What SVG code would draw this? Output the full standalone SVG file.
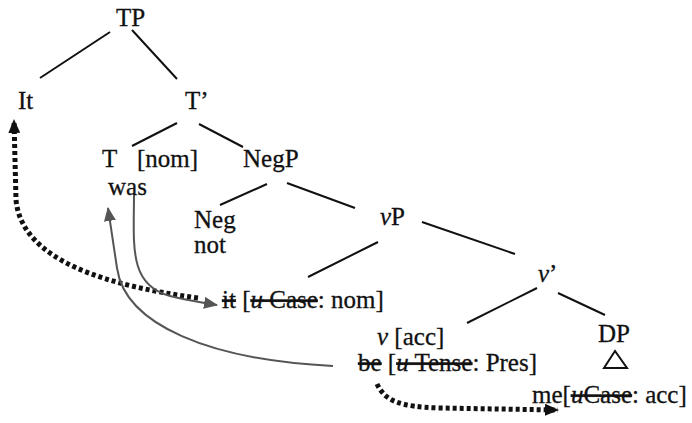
<svg xmlns="http://www.w3.org/2000/svg" width="692" height="423" viewBox="0 0 692 423">
<defs>
<marker id="ahK" markerWidth="14" markerHeight="12" refX="13" refY="6" orient="auto" markerUnits="userSpaceOnUse"><path d="M0,0 L14,6 L0,12 z" fill="#111"/></marker>
<marker id="ahG" markerWidth="14" markerHeight="12" refX="13" refY="6" orient="auto" markerUnits="userSpaceOnUse"><path d="M0,0 L14,6 L0,12 z" fill="#555"/></marker>
</defs>
<style>
text{font-family:"Liberation Serif","Times New Roman",serif;font-size:25px;fill:#111;stroke:#111;stroke-width:0.3}
.i{font-style:italic}
.s{text-decoration:line-through}
.edge{stroke:#111;stroke-width:2;fill:none}
.dot{stroke:#111;stroke-width:5;stroke-dasharray:4 3;fill:none}
.thin{stroke:#555;stroke-width:2;fill:none}
</style>
<rect width="692" height="423" fill="#fff"/>
<g id="connectors">
<line class="edge" x1="110" y1="32" x2="40" y2="78"/>
<line class="edge" x1="132" y1="30" x2="177" y2="79"/>
<line class="edge" x1="177" y1="123" x2="132" y2="146"/>
<line class="edge" x1="199" y1="124" x2="243" y2="147"/>
<line class="edge" x1="267" y1="184" x2="220" y2="205"/>
<line class="edge" x1="287" y1="183" x2="355" y2="208"/>
<line class="edge" x1="378" y1="242" x2="308" y2="277"/>
<line class="edge" x1="422" y1="222" x2="515" y2="254"/>
<line class="edge" x1="537" y1="288" x2="467" y2="323"/>
<line class="edge" x1="558" y1="293" x2="605" y2="315"/>
<path class="dot" d="M198,298 C110,286 22,262 16,200 L14,120" marker-end="url(#ahK)"/>
<path class="thin" d="M134,193 C134,245 128,285 170,296 C185,300 200,302 217,305" marker-end="url(#ahG)"/>
<path class="thin" d="M333,366 C210,360 125,325 117,268 L108,208" marker-end="url(#ahG)"/>
<path class="dot" d="M377,384 C385,401 400,407 440,408 L558,410" marker-end="url(#ahK)"/>
</g>
<g id="TP"><text x="116" y="26">TP</text></g>
<g id="It"><text x="18" y="109">It</text></g>
<g id="Tbar"><text x="185" y="109">T’</text></g>
<g id="T"><text x="102" y="167">T<tspan x="137">[nom]</tspan></text><text x="108" y="195">was</text></g>
<g id="NegP"><text x="243" y="167">NegP</text></g>
<g id="Neg"><text x="194" y="228">Neg</text><text x="194" y="253">not</text></g>
<g id="vP"><text x="380" y="225"><tspan class="i">v</tspan>P</text></g>
<g id="it"><text x="222" y="308"><tspan class="s">it</tspan> [<tspan class="s i">u</tspan><tspan class="s"> Case</tspan>: nom]</text></g>
<g id="vbar"><text x="538" y="282"><tspan class="i">v</tspan>’</text></g>
<g id="v"><text x="377" y="345"><tspan class="i">v</tspan> [acc]</text><text x="358" y="371"><tspan class="s">be</tspan> [<tspan class="s i">u</tspan><tspan class="s"> Tense</tspan>: Pres]</text></g>
<g id="DP"><text x="598" y="342">DP</text><polygon points="615,351 604,368 627,368" fill="none" stroke="#111" stroke-width="2"/></g>
<g id="me"><text x="532" y="403">me[<tspan class="s i">u</tspan><tspan class="s">Case</tspan>: acc]</text></g>
</svg>
